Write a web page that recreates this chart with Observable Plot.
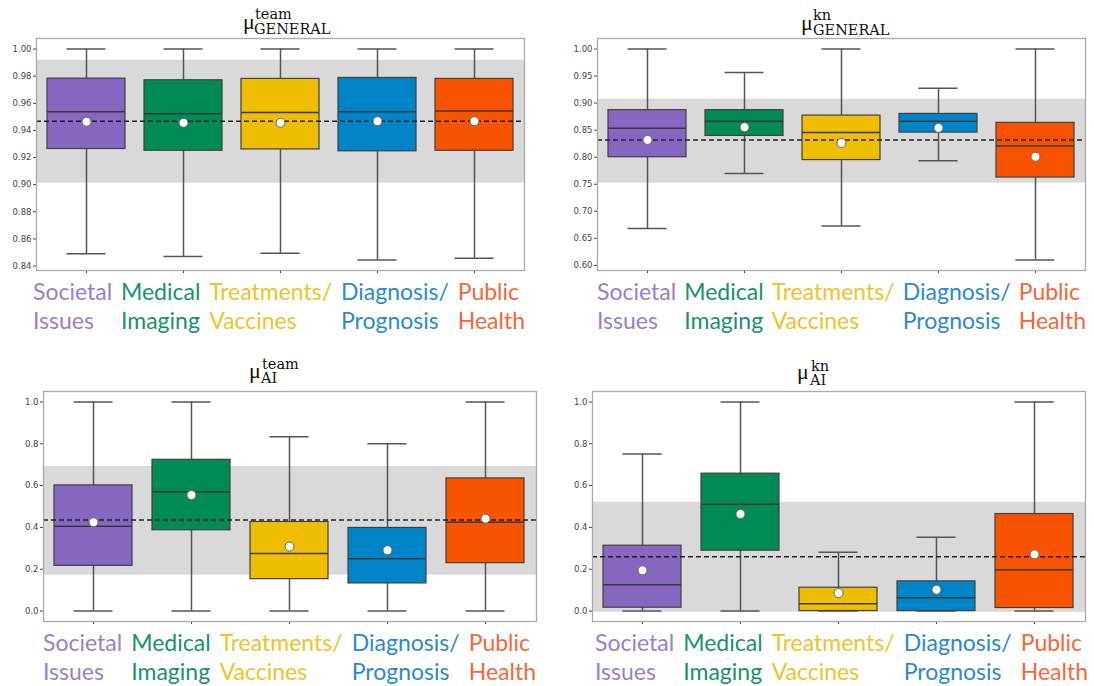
<!DOCTYPE html>
<html><head><meta charset="utf-8">
<script src="https://cdn.jsdelivr.net/npm/d3@7"></script>
<script src="https://cdn.jsdelivr.net/npm/@observablehq/plot@0.6"></script>
<style>
body{margin:0;background:#fff;}
#root{position:relative;width:1094px;height:686px;overflow:hidden;background:#fff;}
.panel{position:absolute;}
.labels{position:absolute;display:flex;justify-content:space-between;font-family:Lato,"Open Sans",sans-serif;font-size:23px;line-height:29px;white-space:nowrap;}
.labels div{text-align:left;}
#titles{position:absolute;left:0;top:0;}
</style></head><body><div id="root"></div>
<script>
// ---------- data ----------
const categories = ["Societal Issues", "Medical Imaging", "Treatments/ Vaccines", "Diagnosis/ Prognosis", "Public Health"];
const labelLine1 = ["Societal", "Medical", "Treatments/", "Diagnosis/", "Public"];
const labelLine2 = ["Issues", "Imaging", "Vaccines", "Prognosis", "Health"];
const boxColors = ["#8566c1", "#008a55", "#efbe00", "#0084c8", "#f95300"];
const labelColors = ["#987ed0", "#16926c", "#f1c22c", "#2c89cf", "#f5673a"];

// panel 1: mu team GENERAL
const genTeamLow  = [0.849, 0.847, 0.8494, 0.8445, 0.8457];
const genTeamQ1   = [0.9263, 0.925, 0.926, 0.9246, 0.925];
const genTeamMed  = [0.9538, 0.9523, 0.9533, 0.9538, 0.9543];
const genTeamQ3   = [0.9782, 0.977, 0.978, 0.9787, 0.978];
const genTeamHigh = [1.0, 1.0, 1.0, 1.0, 1.0];
const genTeamMean = [0.9464, 0.9456, 0.9456, 0.9468, 0.9468];
const genTeamOverall = 0.9468;
const genTeamBand = [0.9011, 0.9918];
const genTeamTicks = [0.84, 0.86, 0.88, 0.90, 0.92, 0.94, 0.96, 0.98, 1.00];

// panel 2: mu kn GENERAL
const genKnLow  = [0.668, 0.770, 0.673, 0.7934, 0.6098];
const genKnQ1   = [0.800, 0.8393, 0.7947, 0.8455, 0.7624];
const genKnMed  = [0.8536, 0.8666, 0.8455, 0.8666, 0.8207];
const genKnQ3   = [0.887, 0.887, 0.877, 0.880, 0.8635];
const genKnHigh = [1.0, 0.9566, 1.0, 0.9274, 1.0];
const genKnMean = [0.832, 0.8555, 0.8263, 0.8542, 0.8009];
const genKnOverall = 0.832;
const genKnBand = [0.752, 0.907];
const genKnTicks = [0.60, 0.65, 0.70, 0.75, 0.80, 0.85, 0.90, 0.95, 1.00];

// panel 3: mu team AI
const aiTeamLow  = [0, 0, 0, 0, 0];
const aiTeamQ1   = [0.2162, 0.3863, 0.1526, 0.132, 0.2289];
const aiTeamMed  = [0.4054, 0.5707, 0.275, 0.2496, 0.4245];
const aiTeamQ3   = [0.601, 0.7234, 0.426, 0.3975, 0.6343];
const aiTeamHigh = [1.0, 1.0, 0.833, 0.80, 1.0];
const aiTeamMean = [0.4245, 0.5548, 0.3084, 0.291, 0.442];
const aiTeamOverall = 0.4356;
const aiTeamBand = [0.1717, 0.6916];

// panel 4: mu kn AI
const aiKnLow  = [0, 0, 0, 0, 0];
const aiKnQ1   = [0.016, 0.2887, 0.0, 0.0, 0.0144];
const aiKnMed  = [0.126, 0.5104, 0.035, 0.0638, 0.1978];
const aiKnQ3   = [0.3126, 0.657, 0.1116, 0.142, 0.464];
const aiKnHigh = [0.751, 1.0, 0.2807, 0.3525, 1.0];
const aiKnMean = [0.1946, 0.464, 0.0861, 0.102, 0.2711];
const aiKnOverall = 0.26;
const aiKnBand = [-0.006, 0.52];
const aiTicks = [0.0, 0.2, 0.4, 0.6, 0.8, 1.0];

// ---------- layout ----------
const root = document.getElementById("root");
const M = {top: 4, right: 4, bottom: 10, left: 40};

const panels = [
  {low: genTeamLow, q1: genTeamQ1, med: genTeamMed, q3: genTeamQ3, high: genTeamHigh, mean: genTeamMean,
   overall: genTeamOverall, band: genTeamBand, ticks: genTeamTicks, fmt: ".2f", domain: [0.8367, 1.0078],
   frame: {x: 36, y: 38, w: 488, h: 232}, span: [33, 525],
   title: {sup: "team", sub: "GENERAL", mu: [243, 29], supPos: [255, 18.5], subPos: [254, 34]}},
  {low: genKnLow, q1: genKnQ1, med: genKnMed, q3: genKnQ3, high: genKnHigh, mean: genKnMean,
   overall: genKnOverall, band: genKnBand, ticks: genKnTicks, fmt: ".2f", domain: [0.5905, 1.0195],
   frame: {x: 597, y: 38, w: 488, h: 232}, span: [597, 1086],
   title: {sup: "kn", sub: "GENERAL", mu: [801, 29.5], supPos: [813, 19.5], subPos: [813, 34.5]}},
  {low: aiTeamLow, q1: aiTeamQ1, med: aiTeamMed, q3: aiTeamQ3, high: aiTeamHigh, mean: aiTeamMean,
   overall: aiTeamOverall, band: aiTeamBand, ticks: aiTicks, fmt: ".1f", domain: [-0.05, 1.05],
   frame: {x: 43, y: 391, w: 493, h: 230}, span: [43, 536],
   title: {sup: "team", sub: "AI", mu: [249, 378], supPos: [262, 369], subPos: [261, 383]}},
  {low: aiKnLow, q1: aiKnQ1, med: aiKnMed, q3: aiKnQ3, high: aiKnHigh, mean: aiKnMean,
   overall: aiKnOverall, band: aiKnBand, ticks: aiTicks, fmt: ".1f", domain: [-0.05, 1.05],
   frame: {x: 592, y: 391, w: 493, h: 230}, span: [595, 1088],
   title: {sup: "kn", sub: "AI", mu: [797, 379], supPos: [811, 370.5], subPos: [810, 384.5]}}
];

const whisk = {stroke: "#555", strokeWidth: 1.5};

panels.forEach(p => {
  const rows = categories.map((c, i) => ({cat: c, low: p.low[i], q1: p.q1[i], med: p.med[i], q3: p.q3[i], high: p.high[i], mean: p.mean[i]}));
  const f = p.frame;
  const chart = Plot.plot({
    width: f.w + M.left + M.right,
    height: f.h + M.top + M.bottom,
    marginTop: M.top, marginRight: M.right, marginBottom: M.bottom, marginLeft: M.left,
    style: {fontFamily: "'DejaVu Sans', sans-serif", fontSize: "8.5px", color: "#444", background: "transparent", overflow: "visible"},
    x: {domain: categories, paddingInner: 0.2, paddingOuter: 0.1, tickSize: 3, tickFormat: () => "", label: null},
    y: {domain: p.domain, ticks: p.ticks, tickFormat: d3.format(p.fmt), tickSize: 3, tickPadding: 2, label: null},
    color: {domain: categories, range: boxColors},
    marks: [
      Plot.barY([0], {y1: [p.band[0]], y2: [p.band[1]], fill: "#d9d9d9"}),
      Plot.ruleX(rows, {x: "cat", y1: "low", y2: "high", ...whisk}),
      Plot.tickY(rows, {x: "cat", y: "low", ...whisk, insetLeft: 19.5, insetRight: 19.5}),
      Plot.tickY(rows, {x: "cat", y: "high", ...whisk, insetLeft: 19.5, insetRight: 19.5}),
      Plot.barY(rows, {x: "cat", y1: "q1", y2: "q3", fill: "cat", stroke: "#404040", strokeWidth: 1.2}),
      Plot.tickY(rows, {x: "cat", y: "med", stroke: "#3a3a3a", strokeWidth: 1.5}),
      Plot.ruleY([p.overall], {stroke: "#222", strokeDasharray: "5,3", strokeWidth: 1.5}),
      Plot.dot(rows, {x: "cat", y: "mean", r: 4.5, fill: "white", stroke: "#666", strokeWidth: 1}),
      Plot.frame({stroke: "#aaa", strokeWidth: 1.3})
    ]
  });
  const holder = document.createElement("div");
  holder.className = "panel";
  holder.style.left = (f.x - M.left) + "px";
  holder.style.top = (f.y - M.top) + "px";
  holder.appendChild(chart);
  root.appendChild(holder);

  const lab = document.createElement("div");
  lab.className = "labels";
  lab.style.left = p.span[0] + "px";
  lab.style.width = (p.span[1] - p.span[0]) + "px";
  lab.style.top = (f.y + f.h + 7) + "px";
  categories.forEach((c, i) => {
    const d = document.createElement("div");
    d.style.color = labelColors[i];
    d.innerHTML = labelLine1[i] + "<br>" + labelLine2[i];
    lab.appendChild(d);
  });
  root.appendChild(lab);
});

// titles
const tsvg = d3.select(root).append("svg").attr("id", "titles").attr("width", 1094).attr("height", 686)
  .style("pointer-events", "none");
panels.forEach(p => {
  const t = p.title;
  tsvg.append("text").attr("x", t.mu[0]).attr("y", t.mu[1]).attr("font-family", "'Liberation Serif', serif")
    .attr("font-size", 22).attr("fill", "#111").text("μ");
  tsvg.append("text").attr("x", t.supPos[0]).attr("y", t.supPos[1]).attr("font-family", "'DejaVu Serif', serif")
    .attr("font-size", 14.5).attr("fill", "#111").text(t.sup);
  tsvg.append("text").attr("x", t.subPos[0]).attr("y", t.subPos[1]).attr("font-family", "'DejaVu Serif', serif")
    .attr("font-size", 14.5).attr("fill", "#111").text(t.sub);
});
</script></body></html>
